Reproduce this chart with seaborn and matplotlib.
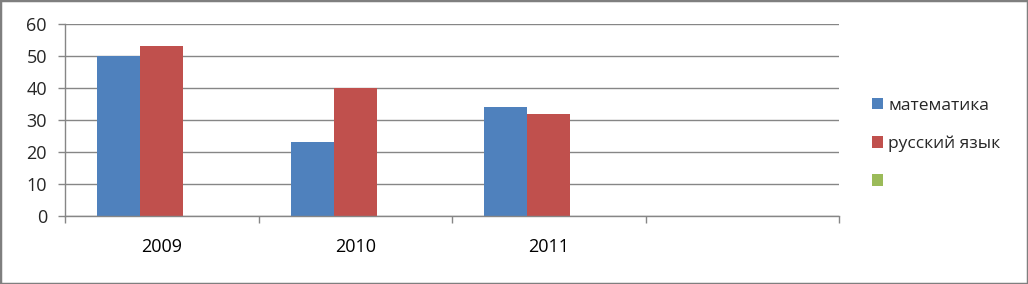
import numpy as np
import pandas as pd
import seaborn as sns
import matplotlib
matplotlib.use("Agg")
import matplotlib.pyplot as plt
from matplotlib.patches import Patch, Rectangle
from matplotlib.ticker import FixedLocator, NullFormatter

categories = ["2009", "2010", "2011", ""]
series_names = ["математика", "русский язык", " "]
math_values = [50, 23, 34, np.nan]
russian_values = [53, 40, 32, np.nan]
third_values = [np.nan, np.nan, np.nan, np.nan]
colors = ["#4F81BD", "#C0504D", "#9BBB59"]

rows = []
for name, vals in zip(series_names, [math_values, russian_values, third_values]):
    for c, v in zip(categories, vals):
        rows.append({"category": c, "series": name, "value": v})
df = pd.DataFrame(rows)

sns.set_theme(style="white")
plt.rcParams["font.family"] = ["Open Sans", "DejaVu Sans"]

fig = plt.figure(figsize=(10.28, 2.84), dpi=100)
ax = fig.add_axes([65/1028, 1-216/284, (839-65)/1028, (216-24)/284])

sns.barplot(data=df, x="category", y="value", hue="series", order=categories,
            hue_order=series_names, palette=colors, width=0.667, ax=ax,
            legend=False, saturation=1, errorbar=None, linewidth=0)

gray = "#868686"
ax.set_xlim(-0.5, 3.5)
ax.set_ylim(0, 60)
ax.set_yticks([0, 10, 20, 30, 40, 50, 60])
ax.yaxis.grid(True, color=gray, linewidth=1)
ax.set_axisbelow(True)
ax.set_xlabel("")
ax.set_ylabel("")
for s in ["top", "right"]:
    ax.spines[s].set_visible(False)
for s in ["left", "bottom"]:
    ax.spines[s].set_color(gray)
    ax.spines[s].set_linewidth(1)

ax.xaxis.set_major_locator(FixedLocator([-0.5, 0.5, 1.5, 2.5, 3.5]))
ax.xaxis.set_major_formatter(NullFormatter())
ax.xaxis.set_minor_locator(FixedLocator([0, 1, 2, 3]))
ax.set_xticklabels(categories, minor=True)
ax.tick_params(axis="x", which="major", direction="out", length=5, color=gray, width=1, bottom=True)
ax.tick_params(axis="x", which="minor", length=0, pad=16, labelsize=13, colors="black", bottom=True)
ax.tick_params(axis="y", direction="out", length=5, color=gray, width=1, pad=8, labelsize=13, left=True)

handles = [Patch(facecolor=c, edgecolor="none") for c in colors]
fig.legend(handles, series_names, loc="center left", bbox_to_anchor=(865/1028, 1-144/284),
           frameon=False, fontsize=12.5, handlelength=0.65, handleheight=0.65,
           handletextpad=0.3, labelspacing=1.27, borderaxespad=0)

fig.patches.append(Rectangle((0, 0), 1, 1, transform=fig.transFigure, fill=False,
                             edgecolor="#7f7f7f", linewidth=2.5, zorder=10))

fig.savefig("out.png", dpi=100)
